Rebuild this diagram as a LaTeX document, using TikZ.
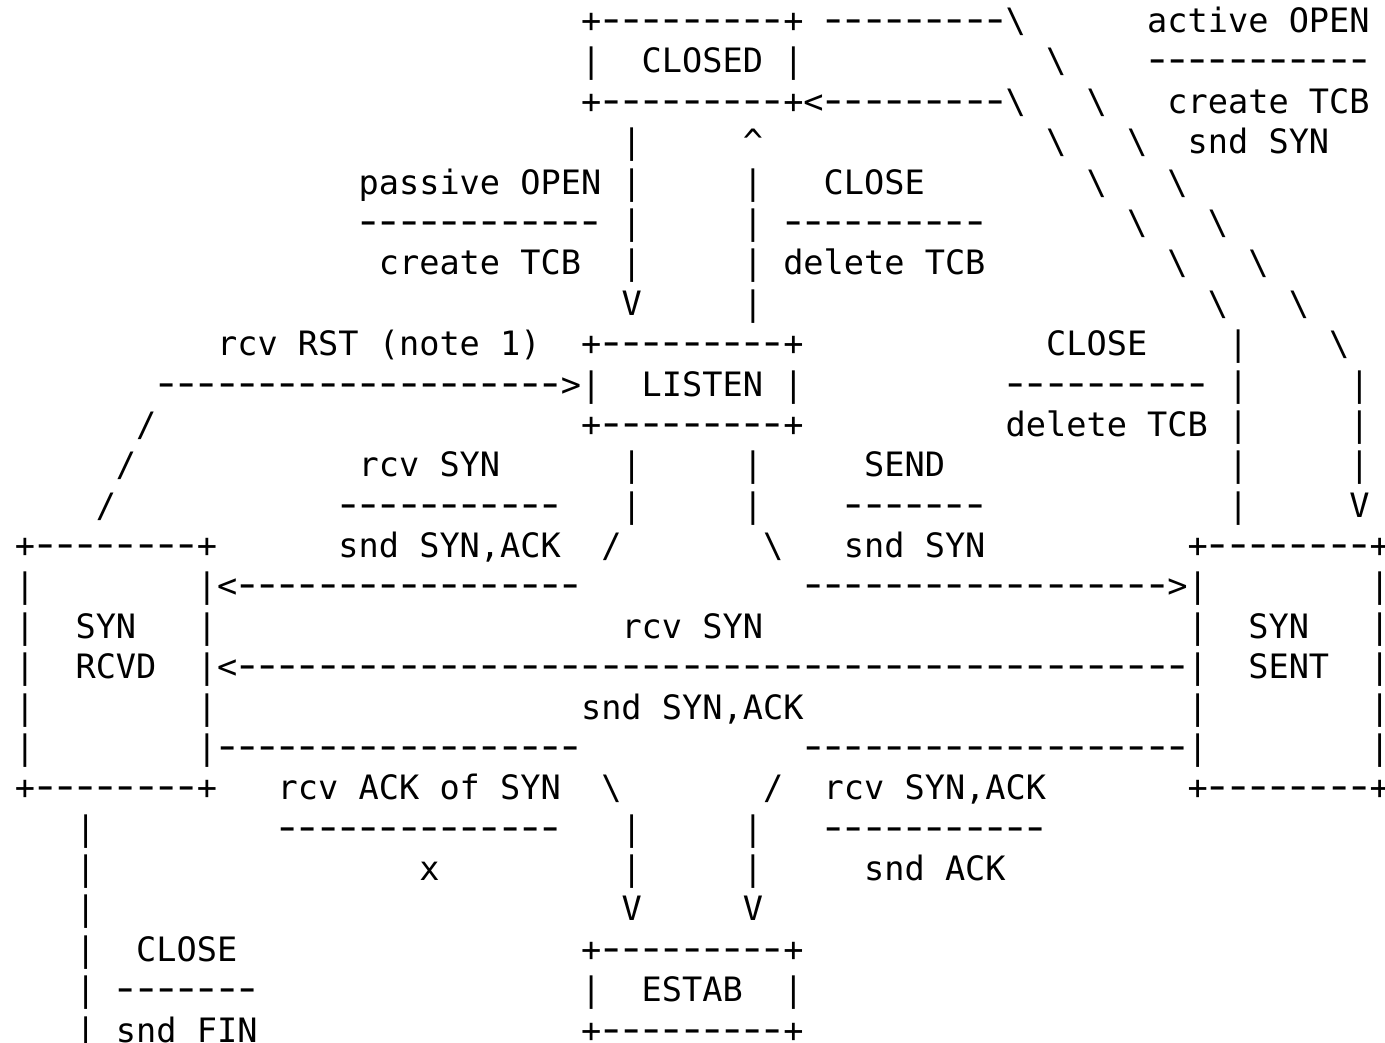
\documentclass[tikz,border=0pt]{standalone}
\usepackage{fontspec}
\usepackage{graphicx}
\setmonofont{DejaVu Sans Mono}

% a run of #1 wide hyphens, one per character cell
\newcommand\dashrun[1]{%
  \foreach \i in {1,...,#1}{\makebox[0.602em]{\scalebox{1.5}[1.2]{-}}}}

\begin{document}
\begin{tikzpicture}[x=0.2022cm, y=-0.4038cm,
    ascii/.style={anchor=base west, inner sep=0pt, outer sep=0pt,
      font=\ttfamily\fontsize{9.556pt}{11pt}\selectfont}]

  \useasboundingbox (-0.736,-0.807) rectangle (67.76,25.02);
  \fill[white] (-0.736,-0.807) rectangle (67.76,25.02);

  % CLOSED
  \node[ascii] (closedtop) at (28,0) {+\dashrun{9}+};
  \node[ascii] (closed)    at (28,1) {|~~CLOSED~|};
  \node[ascii] (closedbot) at (28,2) {+\dashrun{9}+};

  % active OPEN out of CLOSED, CLOSE back into it
  \node[ascii] (actout) at (40,0) {\dashrun{9}\textbackslash};
  \node[ascii] (actin)  at (39,2) {<\dashrun{9}\textbackslash};
  \foreach \r in {1,...,8}
    \node[ascii] (actdiag\r) at ({49+2*\r},\r) {\textbackslash};
  \foreach \r in {3,...,7}
    \node[ascii] (sentdiag\r) at ({45+2*\r},\r) {\textbackslash};
  \node[ascii] (actlbl)  at (56,0) {active OPEN};
  \node[ascii] (actrule) at (56,1) {\dashrun{11}};
  \node[ascii] (actdo1)  at (57,2) {create TCB};
  \node[ascii] (actdo2)  at (58,3) {snd SYN};

  % passive OPEN / CLOSE between CLOSED and LISTEN
  \foreach \r in {3,...,6}
    \node[ascii] (pasv\r) at (30,\r) {|};
  \node[ascii] (pasvtip) at (30,7) {V};
  \node[ascii] (delltip) at (36,3) {\textasciicircum};
  \foreach \r in {4,...,7}
    \node[ascii] (dell\r) at (36,\r) {|};
  \node[ascii] (pasvlbl)  at (17,4) {passive OPEN};
  \node[ascii] (pasvrule) at (17,5) {\dashrun{12}};
  \node[ascii] (pasvdo)   at (18,6) {create TCB};
  \node[ascii] (delllbl)  at (40,4) {CLOSE};
  \node[ascii] (dellrule) at (38,5) {\dashrun{10}};
  \node[ascii] (delldo)   at (38,6) {delete TCB};

  % LISTEN
  \node[ascii] (listentop) at (28,8)  {+\dashrun{9}+};
  \node[ascii] (listen)    at (28,9)  {|~~LISTEN~|};
  \node[ascii] (listenbot) at (28,10) {+\dashrun{9}+};

  % rcv RST back to LISTEN
  \node[ascii] (rstlbl) at (10,8) {rcv RST (note 1)};
  \node[ascii] (rst)    at (7,9)  {\dashrun{20}>};
  \foreach \r in {10,11,12}
    \node[ascii] (rst\r) at ({16-\r},\r) {/};

  % CLOSE out of SYN SENT
  \node[ascii] (sentcllbl)  at (51,8)  {CLOSE};
  \node[ascii] (sentclrule) at (49,9)  {\dashrun{10}};
  \node[ascii] (sentcldo)   at (49,10) {delete TCB};
  \foreach \r in {8,...,12}
    \node[ascii] (sentcl\r) at (60,\r) {|};
  \foreach \r in {9,10,11}
    \node[ascii] (actbar\r) at (66,\r) {|};
  \node[ascii] (acttip) at (66,12) {V};

  % LISTEN down to SYN RCVD and SYN SENT
  \foreach \r in {11,12} {
    \node[ascii] (lsyn\r)  at (30,\r) {|};
    \node[ascii] (lsend\r) at (36,\r) {|};
  }
  \node[ascii] (lsyn13)  at (29,13) {/};
  \node[ascii] (lsend13) at (37,13) {\textbackslash};
  \node[ascii] (lsynlbl)   at (17,11) {rcv SYN};
  \node[ascii] (lsynrule)  at (16,12) {\dashrun{11}};
  \node[ascii] (lsyndo)    at (16,13) {snd SYN,ACK};
  \node[ascii] (lsendlbl)  at (42,11) {SEND};
  \node[ascii] (lsendrule) at (41,12) {\dashrun{7}};
  \node[ascii] (lsenddo)   at (41,13) {snd SYN};

  % SYN RCVD
  \node[ascii] (rcvdtop) at (0,13) {+\dashrun{8}+};
  \node[ascii] (rcvdbot) at (0,19) {+\dashrun{8}+};
  \foreach \r in {14,...,18} {
    \node[ascii] (rcvdl\r) at (0,\r) {|};
    \node[ascii] (rcvdr\r) at (9,\r) {|};
  }
  \node[ascii] (rcvd1) at (3,15) {SYN};
  \node[ascii] (rcvd2) at (3,16) {RCVD};

  % SYN SENT
  \node[ascii] (senttop) at (58,13) {+\dashrun{8}+};
  \node[ascii] (sentbot) at (58,19) {+\dashrun{8}+};
  \foreach \r in {14,...,18} {
    \node[ascii] (sentl\r) at (58,\r) {|};
    \node[ascii] (sentr\r) at (67,\r) {|};
  }
  \node[ascii] (sent1) at (61,15) {SYN};
  \node[ascii] (sent2) at (61,16) {SENT};

  % between SYN RCVD and SYN SENT
  \node[ascii] (toRcvd)   at (10,14) {<\dashrun{17}};
  \node[ascii] (toSent)   at (39,14) {\dashrun{18}>};
  \node[ascii] (simlbl)   at (30,15) {rcv SYN};
  \node[ascii] (simarrow) at (10,16) {<\dashrun{47}};
  \node[ascii] (simdo)    at (28,17) {snd SYN,ACK};
  \node[ascii] (toEstabL) at (10,18) {\dashrun{18}};
  \node[ascii] (toEstabR) at (39,18) {\dashrun{19}};

  % down to ESTAB
  \node[ascii] (ackl19) at (29,19) {\textbackslash};
  \node[ascii] (ackr19) at (37,19) {/};
  \foreach \r in {20,21} {
    \node[ascii] (ackl\r) at (30,\r) {|};
    \node[ascii] (ackr\r) at (36,\r) {|};
  }
  \node[ascii] (ackltip) at (30,22) {V};
  \node[ascii] (ackrtip) at (36,22) {V};
  \node[ascii] (acklbl)   at (13,19) {rcv ACK of SYN};
  \node[ascii] (acklrule) at (13,20) {\dashrun{14}};
  \node[ascii] (ackldo)   at (20,21) {x};
  \node[ascii] (ackrlbl)  at (40,19) {rcv SYN,ACK};
  \node[ascii] (ackrrule) at (40,20) {\dashrun{11}};
  \node[ascii] (ackrdo)   at (42,21) {snd ACK};

  % ESTAB
  \node[ascii] (estabtop) at (28,23) {+\dashrun{9}+};
  \node[ascii] (estab)    at (28,24) {|~~ESTAB~~|};
  \node[ascii] (estabbot) at (28,25) {+\dashrun{9}+};

  % CLOSE out of SYN RCVD
  \foreach \r in {20,...,25}
    \node[ascii] (rcvdcl\r) at (3,\r) {|};
  \node[ascii] (rcvdcllbl)  at (6,23) {CLOSE};
  \node[ascii] (rcvdclrule) at (5,24) {\dashrun{7}};
  \node[ascii] (rcvdcldo)   at (5,25) {snd FIN};

\end{tikzpicture}
\end{document}
